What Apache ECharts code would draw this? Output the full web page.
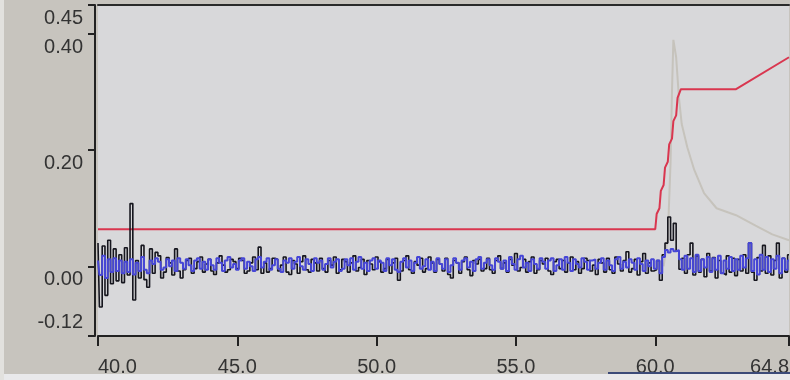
<!DOCTYPE html>
<html>
<head>
<meta charset="utf-8">
<script src="https://cdn.jsdelivr.net/npm/echarts@6/dist/echarts.min.js"></script>
<style>
html,body{margin:0;padding:0;background:#c7c4be;}
#chart{width:790px;height:380px;}
</style>
</head>
<body>
<div id="chart"></div>
<script>
// Sampling grid of the noisy traces (minutes)
const traceStart = 40.0;
const traceStep = 0.1;

// Black trace, values in 1/1000 units, one row per minute (40.0 ... 64.8)
const blackMilli = [
  40,-70,35,-50,45,-30,30,-25,20,-28,
  32,-15,108,-58,10,-20,36,-23,-36,30,
  -12,24,18,-20,-10,15,6,-15,30,-8,
  -20,-6,10,14,-12,-4,8,16,-10,4,
  12,-8,-14,6,18,2,-10,-6,12,8,
  -4,14,10,-12,-8,6,16,-6,33,-12,
  6,-10,-4,14,12,-8,2,16,-10,-14,
  10,4,-12,8,18,-6,-10,12,6,-8,
  14,-4,-10,10,2,16,-12,-6,12,8,
  -10,6,18,-8,-2,12,-14,10,4,-6,
  16,8,-10,-4,12,-12,6,14,-24,-8,
  10,18,-6,-12,8,2,14,-10,-4,16,
  6,-10,12,4,-8,14,-14,-20,10,6,
  -12,8,16,-6,-16,10,4,12,-8,-4,
  14,-6,-12,10,18,-4,6,-10,12,2,
  22,-8,-2,12,-10,8,16,-12,-6,10,
  4,14,-8,-14,8,12,-4,10,-10,6,
  16,-6,8,-12,-4,14,10,-8,2,-14,
  12,6,-10,14,-6,-12,16,4,-8,10,
  25,-10,-4,12,-15,8,22,-12,6,-8,
  -6,10,-24,20,40,85,45,74,26,-5,
  14,-12,20,40,-15,18,-10,12,-18,22,
  -8,15,-20,10,-12,-15,18,-10,14,-16,
  12,-8,20,-12,40,-10,-24,15,-8,36,
  -12,18,-15,10,40,-20,14,-10,20
];

// Blue trace, values in 1/1000 units
const blueMilli = [
  10,-15,18,-20,12,-10,14,-8,10,-12,
  8,-10,12,-14,6,-8,16,-6,-12,10,
  4,14,8,-6,-2,12,0,10,-8,14,
  6,-4,12,2,-8,10,14,-4,8,-6,
  12,2,-6,14,6,-8,10,16,-2,4,
  -6,10,14,-4,8,0,-8,12,16,-2,
  8,14,-6,2,12,-4,-10,10,6,14,
  -4,8,16,0,-6,12,4,-8,14,6,
  10,-6,4,14,-2,8,12,-8,-4,12,
  2,14,-6,8,16,-4,6,-8,10,14,
  -4,10,6,-8,14,2,12,-6,-10,8,
  14,-2,10,-8,6,16,-4,0,12,-6,
  8,-8,14,4,-4,12,-10,2,14,6,
  -6,10,14,-2,8,-8,12,16,-4,6,
  12,2,-6,14,8,-4,10,-8,16,4,
  -6,12,18,-2,6,-8,12,4,-4,14,
  8,-4,10,14,-8,2,12,-6,16,6,
  -8,12,4,-2,14,8,-6,10,12,-4,
  6,14,-6,10,2,-8,12,16,-4,8,
  -2,12,6,-6,14,4,-8,10,0,12,
  -4,10,-12,16,28,24,30,26,28,12,
  -6,18,-4,14,-10,20,-8,12,-2,16,
  -10,14,-6,18,-12,10,-4,16,-8,12,
  -6,18,-2,14,40,-8,12,-14,20,-6,
  16,-10,12,-4,18,-12,14,-6,10
];

// Red gradient trace
const redT = [40.0, 60.0, 60.05, 60.15, 60.2, 60.3, 60.35, 60.45, 60.5, 60.6, 60.65, 60.75, 60.8, 60.92, 62.9, 64.8];
const redV = [0.064, 0.064, 0.09, 0.10, 0.13, 0.14, 0.17, 0.18, 0.21, 0.22, 0.25, 0.26, 0.29, 0.305, 0.305, 0.36];

// Faint grey trace
const greyT = [60.3, 60.45, 60.55, 60.6, 60.65, 60.75, 60.85, 60.95, 61.15, 61.4, 61.75, 62.2, 62.9, 63.6, 64.2, 64.8];
const greyV = [0.0, 0.05, 0.18, 0.30, 0.39, 0.36, 0.29, 0.245, 0.205, 0.166, 0.126, 0.10, 0.088, 0.07, 0.055, 0.045];

// Axis ticks
const xTicks = [40.0, 45.0, 50.0, 55.0, 60.0, 64.8];
const yTicks = [-0.12, 0.00, 0.20, 0.40, 0.45];
const yLabelsBelow = [0.00, 0.20, 0.40, 0.45];
const yLabelsAbove = [-0.12];
const xMin = 40.0, xMax = 64.8, yMin = -0.12, yMax = 0.45;

const toPairs = (arr) => arr.map((v, i) => [traceStart + i * traceStep, v / 1000]);
const zip = (a, b) => a.map((t, i) => [t, b[i]]);

const chart = echarts.init(document.getElementById('chart'), null, {renderer: 'canvas'});
const fontFam = '"Liberation Sans", Arial, sans-serif';

const yLabelBase = {
  formatter: (v) => v.toFixed(2),
  fontSize: 20, lineHeight: 27, fontFamily: fontFam, color: '#333', margin: 12,
  showMinLabel: true, showMaxLabel: true
};

chart.setOption({
  animation: false,
  backgroundColor: '#c7c4be',
  grid: {left: 98, right: 1, top: 5, bottom: 44, show: true, backgroundColor: '#d8d8da', borderWidth: 0,
         outerBoundsMode: 'none', containLabel: false},
  xAxis: [{
    type: 'value', min: xMin, max: xMax,
    axisLine: {show: true, onZero: false, lineStyle: {color: '#222', width: 2}},
    axisTick: {show: true, customValues: xTicks, length: 10, lineStyle: {color: '#222', width: 2}},
    axisLabel: {
      customValues: xTicks, formatter: (v) => v.toFixed(1),
      fontSize: 20, fontFamily: fontFam, color: '#333', margin: 21,
      alignMinLabel: 'left', alignMaxLabel: 'right',
      showMinLabel: true, showMaxLabel: true
    },
    splitLine: {show: false}
  }, {
    type: 'value', min: xMin, max: xMax, position: 'top',
    axisLine: {show: true, onZero: false, lineStyle: {color: '#2a2a2a', width: 2}},
    axisTick: {show: false}, axisLabel: {show: false}, splitLine: {show: false}
  }],
  yAxis: [{
    type: 'value', min: yMin, max: yMax, offset: 3, position: 'left',
    axisLine: {show: true, onZero: false, lineStyle: {color: '#222', width: 2}},
    axisTick: {show: true, customValues: yTicks, length: 7, lineStyle: {color: '#222', width: 2}},
    axisLabel: Object.assign({customValues: yLabelsBelow, verticalAlign: 'top'}, yLabelBase),
    splitLine: {show: false}
  }, {
    type: 'value', min: yMin, max: yMax, offset: 3, position: 'left',
    axisLine: {show: false}, axisTick: {show: false},
    axisLabel: Object.assign({customValues: yLabelsAbove, verticalAlign: 'bottom'}, yLabelBase),
    splitLine: {show: false}
  }],
  graphic: [
    {type: 'rect', left: 0, bottom: 0, z: 100, shape: {width: 790, height: 6}, style: {fill: '#e9e9eb'}},
    {type: 'rect', left: 608, bottom: 6, z: 100, shape: {width: 182, height: 2}, style: {fill: '#3c4a78'}},
    {type: 'rect', left: 0, top: 0, z: 100, shape: {width: 4, height: 380}, style: {fill: '#e2e1de'}}
  ],
  series: [
    {type: 'line', name: 'grey', data: zip(greyT, greyV), showSymbol: false, lineStyle: {color: '#c6c3bc', width: 2}, z: 1},
    {type: 'line', name: 'red', data: zip(redT, redV), showSymbol: false, lineStyle: {color: '#d9364f', width: 2}, z: 2},
    {type: 'line', name: 'black', data: toPairs(blackMilli), step: 'middle', showSymbol: false, lineStyle: {color: '#16161e', width: 1.6}, z: 3},
    {type: 'line', name: 'blue', data: toPairs(blueMilli), step: 'middle', showSymbol: false, lineStyle: {color: '#4646d6', width: 2}, z: 4}
  ]
});
</script>
</body>
</html>
